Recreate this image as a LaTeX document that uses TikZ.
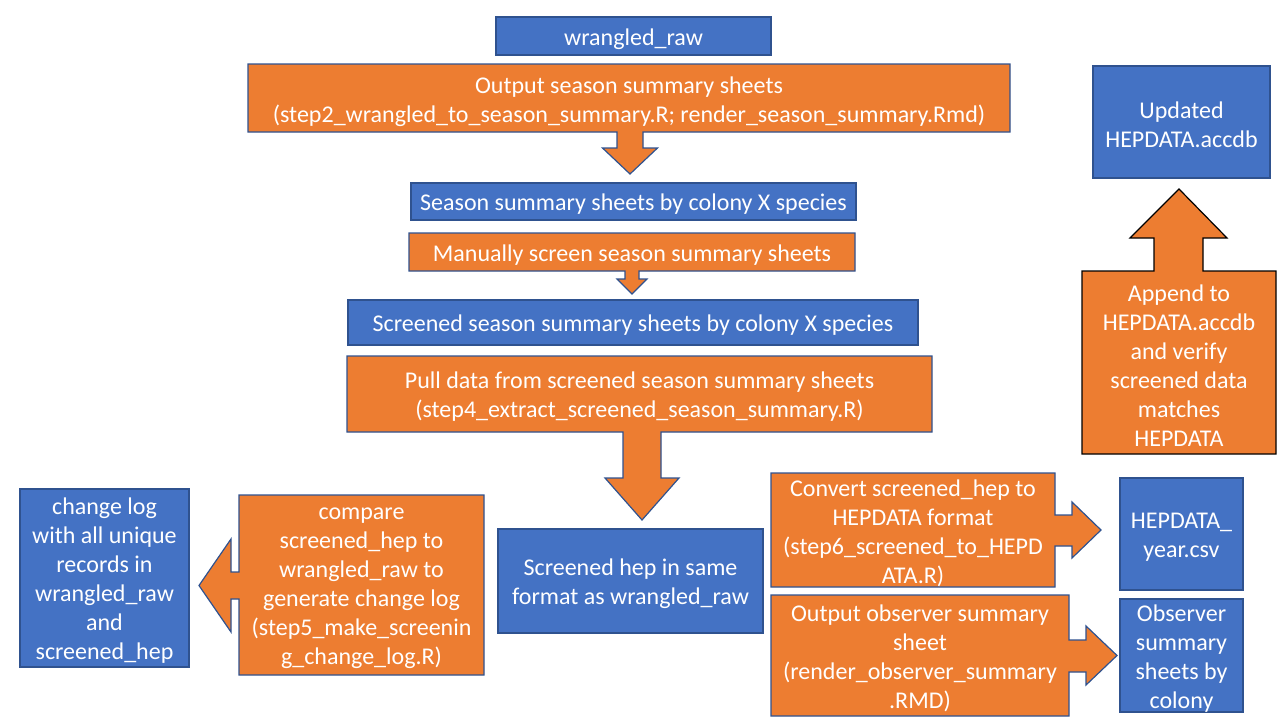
\documentclass[tikz,border=0pt]{standalone}
\usepackage{fontspec}
\setmainfont{Carlito}
\usepackage{xcolor}
\definecolor{Col1}{RGB}{68,114,196}
\definecolor{Col2}{RGB}{237,125,49}
\definecolor{Col3}{RGB}{47,82,143}
\usepackage{tikz}
\tikzstyle{Box}=[rectangle,draw=Col3,fill=Col1,line width=1.2pt,inner sep=0pt]
\tikzstyle{Callout}=[draw=Col3,fill=Col2,line width=1.2pt,line join=miter]
\tikzstyle{CalloutK}=[Callout,draw=black]
\tikzstyle{NodeST}=[text=white,align=center,inner sep=0pt,yshift=-3pt,
font=\fontsize{24}{29}\selectfont]

\begin{document}
\begin{tikzpicture}[x=1pt,y=-1pt]
        \useasboundingbox(0,0)rectangle(1280,720);
        % boxes
        \node[Box,minimum width=275,minimum height=38](raw)at(633.5,36){};
        \node[Box,minimum width=445,minimum height=37](season)at(633.5,201.5){};
        \node[Box,minimum width=570,minimum height=45](screened)at(633,322.5){};
        \node[Box,minimum width=265,minimum height=104](hep)at(630.5,581){};
        \node[Box,minimum width=169,minimum height=178](log)at(104.5,578){};
        \node[Box,minimum width=123,minimum height=112](csv)at(1181.5,534){};
        \node[Box,minimum width=123,minimum height=113](obs)at(1181.5,655.5){};
        \node[Box,minimum width=177,minimum height=112](upd)at(1181.5,122){};
        \node[NodeST](rawT)at(raw){wrangled\_raw};
        \node[NodeST](seasonT)at(season)
            {Season summary sheets by colony X species};
        \node[NodeST](screenedT)at(screened)
            {Screened season summary sheets by colony X species};
        \node[NodeST](hepT)at(hep){Screened hep in same\\format as wrangled\_raw};
        \node[NodeST](logT)at(log)
            {change log\\with all unique\\records in\\wrangled\_raw\\and\\screened\_hep};
        \node[NodeST](csvT)at(csv){HEPDATA\_\\year.csv};
        \node[NodeST](obsT)at(obs){Observer\\summary\\sheets by\\colony};
        \node[NodeST](updT)at(upd){Updated\\HEPDATA.accdb};
        % callouts
        \draw[Callout](248,64)--(1010,64)--(1010,132)--(643,132)--(643,148)
            --(657.5,148)--(630,174)--(602.5,148)--(617,148)--(617,132)
            --(248,132)--cycle;
        \draw[Callout](409,233)--(855,233)--(855,271)--(639,271)--(639,279)
            --(647,279)--(632,294)--(617,279)--(625,279)--(625,271)
            --(409,271)--cycle;
        \draw[Callout](347,356)--(932,356)--(932,432)--(661,432)--(661,478)
            --(679,478)--(642,520)--(605,478)--(623,478)--(623,432)
            --(347,432)--cycle;
        \draw[Callout](239,495)--(484,495)--(484,675)--(239,675)--(239,599)
            --(231,599)--(231,632)--(199,585.5)--(231,539)--(231,572)
            --(239,572)--cycle;
        \draw[Callout](771,473)--(1055,473)--(1055,515)--(1072,515)--(1072,502)
            --(1101,530)--(1072,558)--(1072,546)--(1055,546)--(1055,587)
            --(771,587)--cycle;
        \draw[Callout](771,595)--(1069,595)--(1069,640)--(1086,640)--(1086,626)
            --(1117,655.5)--(1086,685)--(1086,672)--(1069,672)--(1069,716)
            --(771,716)--cycle;
        \draw[CalloutK](1082,454)--(1082,271)--(1154,271)--(1154,238)--(1130,238)
            --(1179,189)--(1227,238)--(1203,238)--(1203,271)--(1276,271)
            --(1276,454)--cycle;
        % callout texts
        \node[NodeST](out)at(629,98.5)
            {Output season summary sheets\\(step2\_wrangled\_to\_season\_summary.R; render\_season\_summary.Rmd)};
        \node[NodeST](manual)at(632,252){Manually screen season summary sheets};
        \node[NodeST](pull)at(639.5,394)
            {Pull data from screened season summary sheets\\(step4\_extract\_screened\_season\_summary.R)};
        \node[NodeST](cmp)at(361.5,585.5)
            {compare\\screened\_hep to\\wrangled\_raw to\\generate change log\\(step5\_make\_screenin\\g\_change\_log.R)};
        \node[NodeST](conv)at(913,530)
            {Convert screened\_hep to\\HEPDATA format\\(step6\_screened\_to\_HEPD\\ATA.R)};
        \node[NodeST](outobs)at(920,655.5)
            {Output observer summary\\sheet\\(render\_observer\_summary\\.RMD)};
        \node[NodeST](app)at(1179,362.5)
            {Append to\\HEPDATA.accdb\\and verify\\screened data\\matches\\HEPDATA};
    \end{tikzpicture}
\end{document}
